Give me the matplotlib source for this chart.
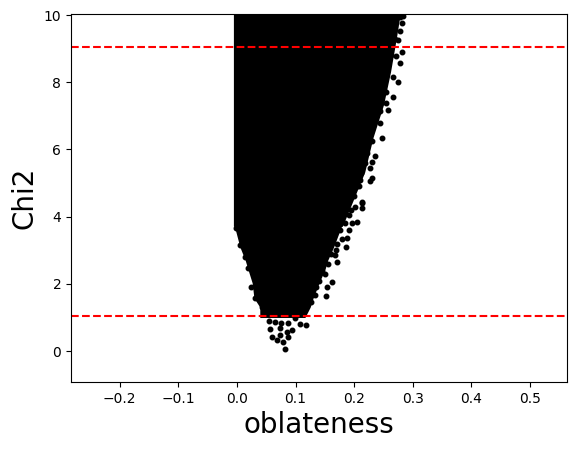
import matplotlib
matplotlib.use('Agg')
import matplotlib.pyplot as plt

BODY_Y = [1.0, 1.31, 1.58, 2.03, 2.42, 2.71, 3.10, 3.70, 3.72, 4.35, 5.33, 6.35, 7.33, 8.31, 9.32, 10.2]
BODY_LEFT = [0.039, 0.039, 0.029, 0.026, 0.019, 0.014, 0.005, -0.004, -0.006, -0.006, -0.006, -0.006, -0.006, -0.006, -0.006, -0.006]
BODY_RIGHT = [0.116, 0.125, 0.130, 0.140, 0.150, 0.155, 0.165, 0.178, 0.180, 0.195, 0.218, 0.232, 0.250, 0.262, 0.272, 0.280]

# loose points around the edge
OBLATENESS = [0.281, 0.278, 0.270, 0.275, 0.281, 0.272, 0.278, 0.267, 0.275, 0.253,
              0.267, 0.255, 0.258, 0.244, 0.244, 0.248, 0.230, 0.235, 0.230, 0.227,
              0.230, 0.227, 0.208, 0.213, 0.213, 0.213, 0.201, 0.191, 0.204, 0.196,
              0.191, 0.179, 0.187, 0.186, 0.169, 0.171, 0.167, 0.162, 0.154, 0.152,
              0.133, 0.127, 0.145, 0.118, 0.108, 0.094, 0.087, 0.079, 0.082, 0.068,
              0.059, 0.056, 0.055, 0.073, 0.085, 0.024, 0.031, 0.042, 0.019, 0.014,
              0.005, -0.002, 0.065, 0.076, 0.087, 0.099, 0.073,
              0.255, 0.262, 0.270, 0.265, 0.262, 0.250, 0.255, 0.245, 0.240, 0.235,
              0.230, 0.225, 0.220, 0.222, 0.218, 0.212, 0.210, 0.205, 0.200, 0.195,
              0.185, 0.175, 0.170, 0.160, 0.155, 0.150, 0.140, 0.135, 0.127, 0.283, 0.278]
CHI2 = [9.76, 9.51, 9.86, 9.26, 8.91, 8.77, 8.57, 8.17, 8.02, 8.07,
        7.57, 7.38, 7.18, 7.13, 6.79, 6.35, 6.24, 5.79, 5.64, 5.45,
        5.15, 5.05, 4.90, 4.44, 4.42, 4.25, 4.30, 4.05, 3.85, 3.82,
        3.61, 3.33, 3.36, 3.10, 3.01, 2.65, 2.86, 2.07, 1.91, 1.64,
        1.67, 1.47, 2.37, 0.78, 0.81, 0.63, 0.42, 0.27, 0.06, 0.33,
        0.42, 0.66, 0.90, 0.48, 0.58, 1.91, 1.59, 1.32, 2.47, 2.81,
        3.16, 3.67, 0.88, 0.84, 0.85, 0.98, 0.69,
        8.50, 8.80, 9.30, 9.60, 9.10, 7.90, 7.70, 7.50, 7.30, 7.00,
        6.70, 6.50, 6.10, 5.90, 5.60, 5.30, 5.10, 4.90, 4.60, 4.20,
        3.80, 3.60, 3.20, 2.90, 2.60, 2.30, 2.10, 1.90, 1.70, 9.98, 9.95]

HLINES = [1.05, 9.05]

fig = plt.figure(figsize=(5.76, 4.5), dpi=100)
ax = fig.add_axes([71 / 576, 1 - 382 / 450, 496 / 576, 368 / 450])

ax.fill_betweenx(BODY_Y, BODY_LEFT, BODY_RIGHT, color='k', lw=0)
ax.plot(OBLATENESS, CHI2, 'k.', ms=6.5)
for y in HLINES:
    ax.axhline(y, color='r', ls='--')

ax.set_xlim(-0.283, 0.563)
ax.set_ylim(-0.92, 10.03)
ax.set_xticks([-0.2, -0.1, 0.0, 0.1, 0.2, 0.3, 0.4, 0.5])
ax.set_yticks([0, 2, 4, 6, 8, 10])
ax.set_xlabel('oblateness', fontsize=20)
ax.set_ylabel('Chi2', fontsize=20)

fig.savefig('out.png', dpi=100)
